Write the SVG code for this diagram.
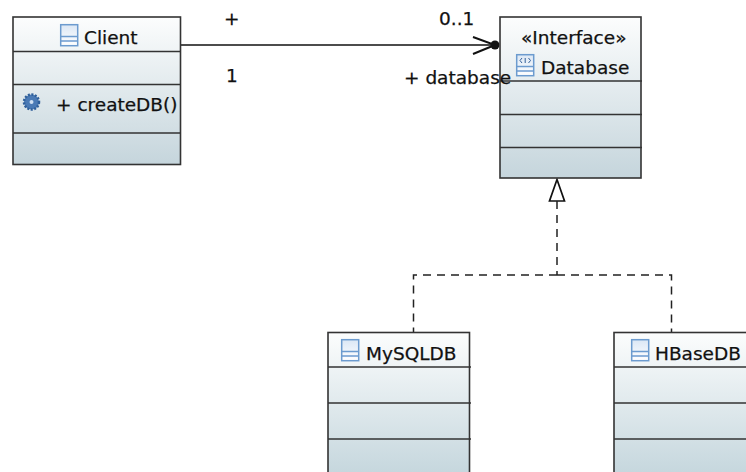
<svg xmlns="http://www.w3.org/2000/svg" width="746" height="472" viewBox="0 0 746 472">
<style>
text{font-family:"DejaVu Sans","Noto Sans",sans-serif;font-size:18.500px;fill:#111;stroke:#111;stroke-width:0.250}
.box{stroke:#333;stroke-width:1.6}
.div{stroke:#333;stroke-width:1.4;fill:none}
.conn{stroke:#111;stroke-width:1.7;fill:none}
.dash{stroke:#222;stroke-width:1.5;fill:none;stroke-dasharray:8 6}
.ic{stroke:#6c9bcf;stroke-width:1.5;fill:none}
</style>
<defs>
<linearGradient id="g" x1="0" y1="0" x2="0" y2="1"><stop offset="0" stop-color="#fcfdfd"/><stop offset="1" stop-color="#c5d5dc"/></linearGradient>
<linearGradient id="g2" gradientUnits="userSpaceOnUse" x1="0" y1="332" x2="0" y2="480"><stop offset="0" stop-color="#fcfdfd"/><stop offset="1" stop-color="#c3d5dc"/></linearGradient>
<linearGradient id="ig" x1="0" y1="0" x2="0" y2="1"><stop offset="0" stop-color="#dbe7f5"/><stop offset="1" stop-color="#ffffff"/></linearGradient>
<g id="classIcon"><rect class="ic" x="0.700" y="0.700" width="17" height="21" style="fill:url(#ig)"/><path class="ic" d="M0.700 12.500H17.700M0.700 17H17.700"/></g>
<g id="interfaceIcon"><rect class="ic" x="0.700" y="0.700" width="17" height="21" style="fill:url(#ig)"/><path class="ic" d="M0.700 12.500H17.700M0.700 17H17.700"/><path d="M6 4L4 6.500L6 9M12.500 4L14.500 6.500L12.500 9M9.200 4V9" fill="none" stroke="#34609a" stroke-width="1"/></g>
</defs>
<g id="connectors">
<path class="conn" d="M181 45H495"/>
<path class="conn" style="stroke-width:2" d="M473 37L495 45L473 54"/>
<circle cx="495" cy="45" r="4.500" fill="#111"/>
<path class="conn" d="M557 179.500L549.500 201H564.500Z" style="fill:#fff"/>
<path class="dash" d="M557 201V275"/>
<path class="dash" d="M557 275H413.500V332"/>
<path class="dash" d="M557 275H671.500V332"/>
</g>
<g id="client">
<rect class="box" x="13" y="17" width="167.500" height="147.500" fill="url(#g)"/>
<path class="div" d="M13 51.500H181M13 84.500H181M13 133H181"/>
<use href="#classIcon" x="60" y="24"/>
<text x="84" y="44">Client</text>
<circle cx="31.500" cy="102" r="7.500" fill="#4a7ab5" stroke="#2f5f9a" stroke-width="2.500" stroke-dasharray="2 1.500"/>
<circle cx="31.500" cy="102" r="2" fill="#cfe0f2"/>
<text x="56" y="111">+ createDB()</text>
</g>
<g id="database">
<rect class="box" x="500" y="17" width="141" height="161" fill="url(#g)"/>
<path class="div" d="M500 81H642M500 114.500H642M500 147.500H642"/>
<text x="521" y="44">«Interface»</text>
<use href="#interfaceIcon" x="516" y="54"/>
<text x="541" y="74">Database</text>
</g>
<g id="mysqldb">
<rect class="box" x="328" y="332.500" width="141.500" height="150" fill="url(#g2)"/>
<path class="div" d="M328 367H471M328 403H471M328 439H471"/>
<use href="#classIcon" x="341" y="339"/>
<text x="366" y="360">MySQLDB</text>
</g>
<g id="hbasedb">
<rect class="box" x="614" y="332.500" width="150" height="150" fill="url(#g2)"/>
<path class="div" d="M614 367H746M614 403H746M614 439H746"/>
<use href="#classIcon" x="631" y="339"/>
<text x="655" y="360">HBaseDB</text>
</g>
<g id="labels">
<text x="224" y="25">+</text>
<text x="226" y="82">1</text>
<text x="439" y="25">0..1</text>
<text x="404" y="84">+ database</text>
</g>
</svg>
